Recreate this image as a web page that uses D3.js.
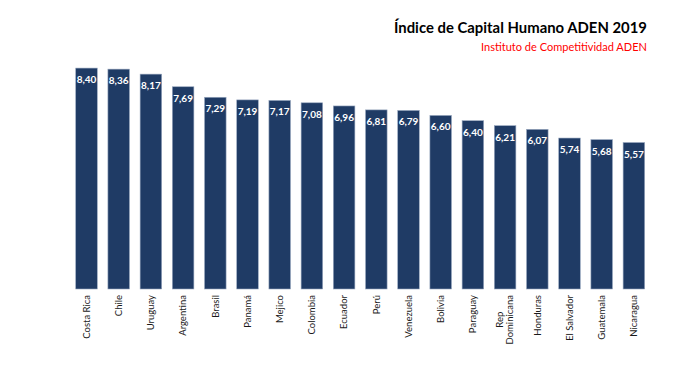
<!DOCTYPE html>
<html>
<head>
<meta charset="utf-8">
<script src="https://cdn.jsdelivr.net/npm/d3@7"></script>
<style>
  html, body { margin: 0; padding: 0; background: #ffffff; }
  svg { display: block; }
</style>
</head>
<body>
<svg id="chart" width="682" height="387"></svg>
<script>
const countries = ["Costa Rica", "Chile", "Uruguay", "Argentina", "Brasil", "Panamá", "Mejico", "Colombia", "Ecuador", "Perú", "Venezuela", "Bolivia", "Paraguay", "Rep Dominicana", "Honduras", "El Salvador", "Guatemala", "Nicaragua"];
const values = [8.40, 8.36, 8.17, 7.69, 7.29, 7.19, 7.17, 7.08, 6.96, 6.81, 6.79, 6.60, 6.40, 6.21, 6.07, 5.74, 5.68, 5.57];
const titleText = "Índice de Capital Humano ADEN 2019";
const subtitleText = "Instituto de Competitividad ADEN";

const data = countries.map((c, i) => ({ country: c, value: values[i] }));

const svg = d3.select("#chart");
const font = "Lato, 'Open Sans', sans-serif";

const x = d3.scaleBand()
  .domain(countries)
  .range([70.4, 70.4 + 18 * 32.2])
  .paddingInner(0.33)
  .paddingOuter(0.165);

const y = d3.scaleLinear().domain([0, 10]).range([289, 26]);

const es = d3.formatLocale({ decimal: ",", thousands: ".", grouping: [3], currency: ["", "€"] });
const fmt = es.format(".2f");

// bars
svg.append("g").selectAll("rect")
  .data(data)
  .join("rect")
  .attr("x", d => x(d.country))
  .attr("y", d => y(d.value))
  .attr("width", x.bandwidth())
  .attr("height", d => y(0) - y(d.value))
  .attr("fill", "#1f3b65")
  .attr("stroke", "#9aa9c0")
  .attr("stroke-width", 0.6);

// value labels
svg.append("g").selectAll("text")
  .data(data)
  .join("text")
  .attr("x", d => x(d.country) + x.bandwidth() / 2)
  .attr("y", d => y(d.value) + 15)
  .attr("text-anchor", "middle")
  .attr("fill", "#ffffff")
  .attr("font-family", font)
  .attr("font-weight", "bold")
  .attr("font-size", "10px")
  .text(d => fmt(d.value));

// x axis labels (rotated)
const xAxis = d3.axisBottom(x).tickSize(0).tickPadding(0);
const gx = svg.append("g").attr("transform", `translate(0, ${y(0)})`).call(xAxis);
gx.select(".domain").remove();
gx.selectAll(".tick text").remove();
gx.selectAll(".tick").each(function(d) {
  const g = d3.select(this);
  const parts = d === "Rep Dominicana" ? ["Rep", "Dominicana"] : [d];
  const t = g.append("text")
    .attr("transform", "rotate(-90)")
    .attr("font-family", font)
    .attr("font-size", "9.5px")
    .attr("fill", "#1a1a1a");
  if (parts.length === 1) {
    t.attr("x", -6).attr("y", 0).attr("dy", "0.35em").attr("text-anchor", "end").text(d);
  } else {
    const tmp = t.append("tspan").text(parts[1]);
    const w = tmp.node().getComputedTextLength();
    tmp.remove();
    const cx = -6 - w / 2;
    t.attr("text-anchor", "middle");
    t.append("tspan").attr("x", cx).attr("y", -5).attr("dy", "0.35em").text(parts[0]);
    t.append("tspan").attr("x", cx).attr("y", 5).attr("dy", "0.35em").text(parts[1]);
  }
});

// title
svg.append("text")
  .attr("x", 647).attr("y", 33)
  .attr("text-anchor", "end")
  .attr("font-family", font)
  .attr("font-weight", "bold")
  .attr("font-size", "15.5px")
  .attr("fill", "#000000")
  .attr("textLength", 253)
  .attr("lengthAdjust", "spacingAndGlyphs")
  .text(titleText);

svg.append("text")
  .attr("x", 647).attr("y", 51)
  .attr("text-anchor", "end")
  .attr("font-family", font)
  .attr("font-size", "10.5px")
  .attr("fill", "#ff0000")
  .attr("textLength", 166)
  .attr("lengthAdjust", "spacingAndGlyphs")
  .text(subtitleText);
</script>
</body>
</html>
